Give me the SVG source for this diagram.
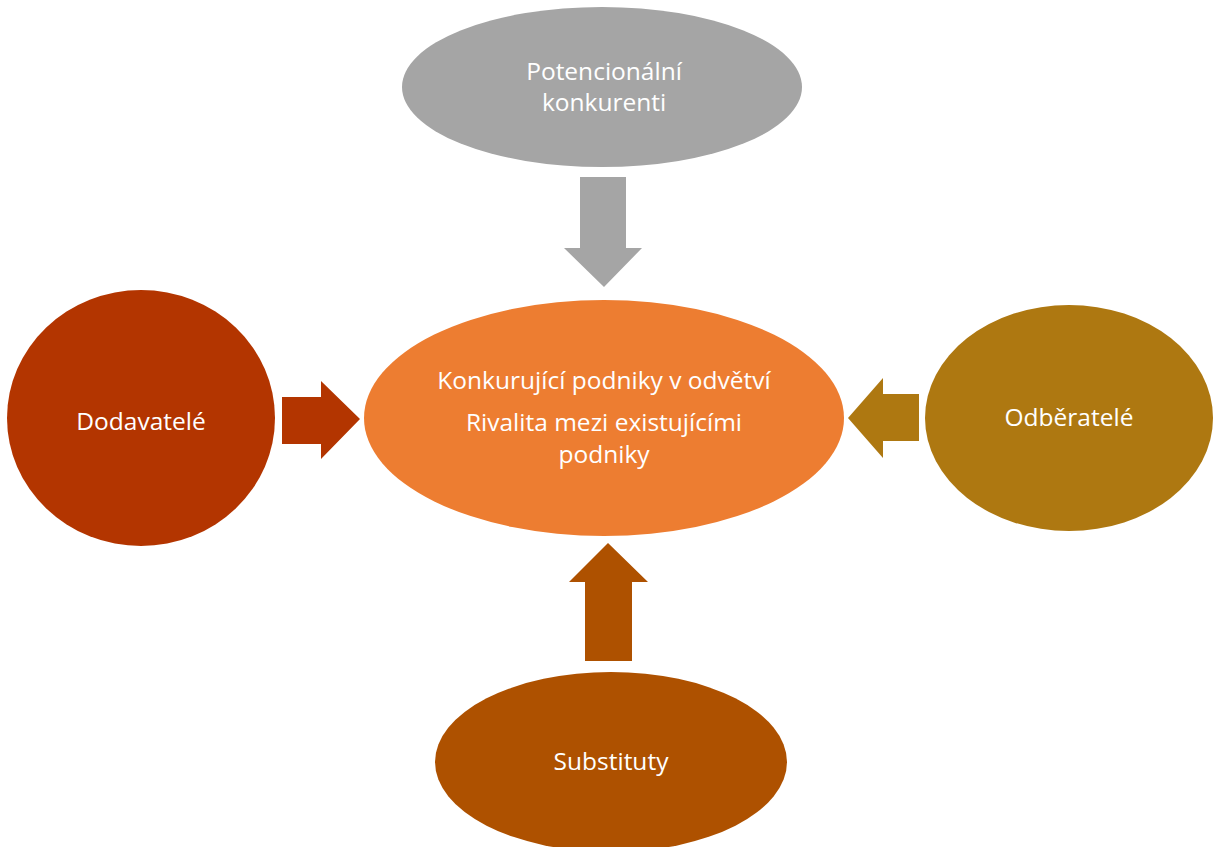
<svg xmlns="http://www.w3.org/2000/svg" width="1214" height="847" viewBox="0 0 1214 847">
<style>
text{font-family:"Open Sans","Liberation Sans",sans-serif;font-size:24.5px;fill:#ffffff;text-anchor:middle}
</style>
<rect width="1214" height="847" fill="#ffffff"/>
<g id="connectors">
<polygon points="580,177 626,177 626,248 642,248 604,287 564,248 580,248" fill="#A5A5A5"/>
<polygon points="282,397 321,397 321,381 360,419 321,459 321,444 282,444" fill="#B33500"/>
<polygon points="919,394 883,394 883,378 848,418 883,458 883,441 919,441" fill="#AE7811"/>
<polygon points="585,661 632,661 632,582 648,582 608,543 569,582 585,582" fill="#AE5100"/>
</g>
<g id="potencialni">
<ellipse cx="602" cy="87" rx="200" ry="80" fill="#A5A5A5"/>
<text x="604" y="80">Potencionální</text>
<text x="604" y="111">konkurenti</text>
</g>
<g id="konkurujici">
<ellipse cx="604" cy="418" rx="240" ry="118" fill="#ED7D31"/>
<text x="604" y="389">Konkurující podniky v odvětví</text>
<text x="604" y="431">Rivalita mezi existujícími</text>
<text x="604" y="463">podniky</text>
</g>
<g id="dodavatele">
<ellipse cx="141" cy="418" rx="134" ry="128" fill="#B33500"/>
<text x="141" y="430">Dodavatelé</text>
</g>
<g id="odberatele">
<ellipse cx="1069" cy="418" rx="144" ry="113" fill="#AE7811"/>
<text x="1069" y="426">Odběratelé</text>
</g>
<g id="substituty">
<ellipse cx="611" cy="762" rx="176" ry="90" fill="#AE5100"/>
<text x="611" y="770">Substituty</text>
</g>
</svg>
